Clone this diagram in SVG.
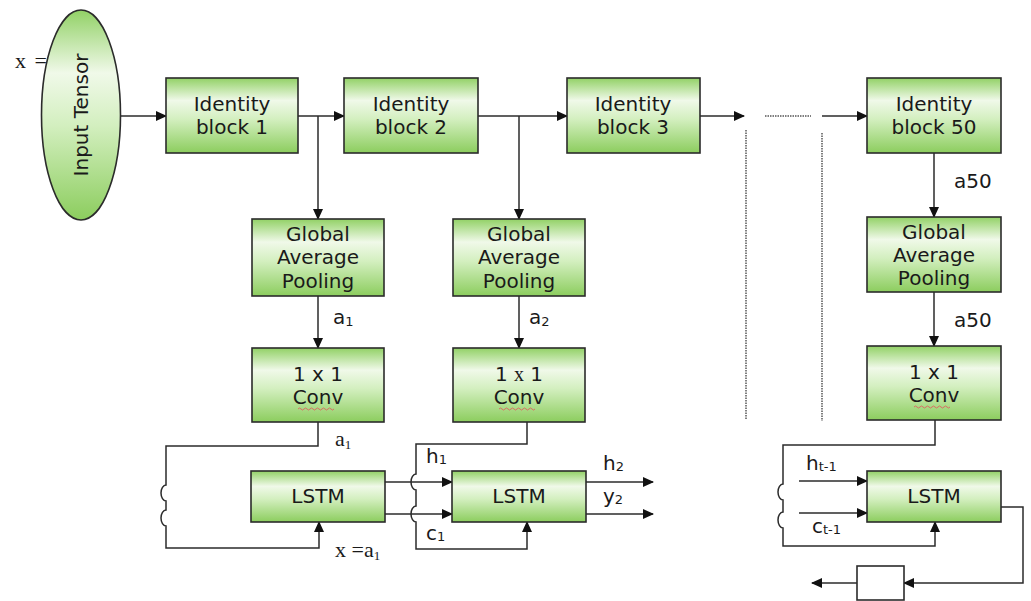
<svg xmlns="http://www.w3.org/2000/svg" width="1031" height="601" viewBox="0 0 1031 601">
<defs>
<linearGradient id="g" x1="0" y1="0" x2="0" y2="1">
<stop offset="0" stop-color="#92d166"/>
<stop offset="0.3" stop-color="#f0f9e9"/>
<stop offset="0.55" stop-color="#d3efbf"/>
<stop offset="1" stop-color="#8ccd5e"/>
</linearGradient>
<marker id="ah" markerWidth="11" markerHeight="10" refX="10" refY="5" orient="auto" markerUnits="userSpaceOnUse">
<path d="M0,0 L11,5 L0,10 Z" fill="#111"/>
</marker>
<style>
.box{fill:url(#g);stroke:#2b2b2b;stroke-width:1.6}
.t{font-family:"DejaVu Sans",Verdana,sans-serif;font-size:20px;fill:#1a1a1a;text-anchor:middle}
.l{font-family:"DejaVu Sans",Verdana,sans-serif;font-size:20px;fill:#1a1a1a}
.s{font-family:"Liberation Serif","Times New Roman",serif;font-size:22px;fill:#1a1a1a}
.c{fill:none;stroke:#2b2b2b;stroke-width:1.5}
.a{marker-end:url(#ah)}
.d{fill:none;stroke:#555;stroke-width:1.5;stroke-dasharray:1.5 1}
.sq{fill:none;stroke:#e06060;stroke-width:0.9}
</style>
</defs>
<rect width="1031" height="601" fill="#fff"/>

<g id="connectors">
<path class="c a" d="M121,116 H166"/>
<path class="c a" d="M298,116 H344"/>
<path class="c a" d="M318,116 V219"/>
<path class="c a" d="M478,116 H567"/>
<path class="c a" d="M519,116 V219"/>
<path class="c a" d="M700,116 H744"/>
<path class="d" d="M765,116 H811"/>
<path class="c a" d="M822,116 H867"/>
<path class="d" d="M746,130 V420"/>
<path class="d" d="M822,133 V421"/>
<path class="c a" d="M934,153 V217"/>
<path class="c a" d="M318,296 V348"/>
<path class="c a" d="M519,296 V348"/>
<path class="c a" d="M934,292 V346"/>
<path class="c a" d="M318,422 V446 H166 V485 A5,8 0 0 0 166,501 V510 A5,8 0 0 0 166,526 V548 H319 V522"/>
<path class="c a" d="M527,422 V444 H416 V474 A5,8 0 0 0 416,490 V506 A5,8 0 0 0 416,522 V549 H527 V522"/>
<path class="c a" d="M385,482 H452"/>
<path class="c a" d="M385,514 H452"/>
<path class="c a" d="M586,482 H653"/>
<path class="c a" d="M586,514 H653"/>
<path class="c a" d="M935,420 V445 H783 V484 A5,8 0 0 0 783,500 V512 A5,8 0 0 0 783,528 V546 H935 V522"/>
<path class="c a" d="M799,481 H867"/>
<path class="c a" d="M799,513 H867"/>
<path class="c a" d="M1001,507 H1023 V583 H904"/>
<path class="c a" d="M857,583 H812"/>
</g>

<g id="input">
<ellipse cx="81" cy="115" rx="39.5" ry="105" fill="url(#g)" stroke="#2b2b2b" stroke-width="1.6"/>
<text class="t" transform="translate(88,115) rotate(-90)">Input Tensor</text>
</g>
<text class="s" x="15" y="68" letter-spacing="1.5">x =</text>

<g id="id1"><rect class="box" x="166" y="78" width="132" height="75"/>
<text class="t" x="232" y="111">Identity</text><text class="t" x="232" y="134">block 1</text></g>
<g id="id2"><rect class="box" x="344" y="78" width="134" height="75"/>
<text class="t" x="411" y="111">Identity</text><text class="t" x="411" y="134">block 2</text></g>
<g id="id3"><rect class="box" x="567" y="78" width="133" height="75"/>
<text class="t" x="633" y="111">Identity</text><text class="t" x="633" y="134">block 3</text></g>
<g id="id50"><rect class="box" x="867" y="78" width="134" height="75"/>
<text class="t" x="934" y="111">Identity</text><text class="t" x="934" y="134">block 50</text></g>

<g id="gap1"><rect class="box" x="252" y="219" width="132" height="77"/>
<text class="t" x="318" y="241">Global</text><text class="t" x="318" y="264">Average</text><text class="t" x="318" y="288">Pooling</text></g>
<g id="gap2"><rect class="box" x="453" y="219" width="132" height="77"/>
<text class="t" x="519" y="241">Global</text><text class="t" x="519" y="264">Average</text><text class="t" x="519" y="288">Pooling</text></g>
<g id="gap50"><rect class="box" x="867" y="217" width="134" height="75"/>
<text class="t" x="934" y="239">Global</text><text class="t" x="934" y="262">Average</text><text class="t" x="934" y="285">Pooling</text></g>

<g id="conv1"><rect class="box" x="252" y="348" width="132" height="74"/>
<text class="t" x="318" y="381">1 x 1</text><text class="t" x="318" y="404">Conv</text>
<path class="sq" d="M298,409 q1.5,-2 3,0 t3,0 t3,0 t3,0 t3,0 t3,0 t3,0 t3,0 t3,0 t3,0 t3,0 t3,0"/></g>
<g id="conv2"><rect class="box" x="453" y="348" width="132" height="74"/>
<text class="t" x="519" y="381">1 <tspan font-family="Liberation Serif, serif">x</tspan> 1</text><text class="t" x="519" y="404">Conv</text>
<path class="sq" d="M499,409 q1.5,-2 3,0 t3,0 t3,0 t3,0 t3,0 t3,0 t3,0 t3,0 t3,0 t3,0 t3,0 t3,0"/></g>
<g id="conv50"><rect class="box" x="867" y="346" width="134" height="74"/>
<text class="t" x="934" y="379">1 x 1</text><text class="t" x="934" y="402">Conv</text>
<path class="sq" d="M914,407 q1.5,-2 3,0 t3,0 t3,0 t3,0 t3,0 t3,0 t3,0 t3,0 t3,0 t3,0 t3,0 t3,0"/></g>

<g id="lstm1"><rect class="box" x="251" y="471" width="134" height="51"/>
<text class="t" x="318" y="503">LSTM</text></g>
<g id="lstm2"><rect class="box" x="452" y="471" width="134" height="51"/>
<text class="t" x="519" y="503">LSTM</text></g>
<g id="lstm50"><rect class="box" x="867" y="471" width="134" height="51"/>
<text class="t" x="934" y="503">LSTM</text></g>
<g id="outbox"><rect x="857" y="566" width="47" height="34" fill="#fff" stroke="#2b2b2b" stroke-width="1.6"/></g>

<g id="labels">
<text class="l" x="333" y="324">a<tspan font-size="13" dy="2">1</tspan></text>
<text class="l" x="529" y="324">a<tspan font-size="13" dy="2">2</tspan></text>
<text class="l" x="954" y="188">a50</text>
<text class="l" x="954" y="327">a50</text>
<text class="s" x="335" y="446">a<tspan font-size="13" dy="3">1</tspan></text>
<text class="s" x="335" y="557">x =a<tspan font-size="13" dy="3">1</tspan></text>
<text class="l" x="426" y="463">h<tspan font-size="13" dy="1">1</tspan></text>
<text class="l" x="426" y="540">c<tspan font-size="13" dy="1">1</tspan></text>
<text class="l" x="603" y="470">h<tspan font-size="13" dy="1">2</tspan></text>
<text class="l" x="603" y="503">y<tspan font-size="13" dy="1">2</tspan></text>
<text class="l" x="806" y="470">h<tspan font-size="13" dy="1">t-1</tspan></text>
<text class="l" x="812" y="533">c<tspan font-size="13" dy="1">t-1</tspan></text>
</g>
</svg>
